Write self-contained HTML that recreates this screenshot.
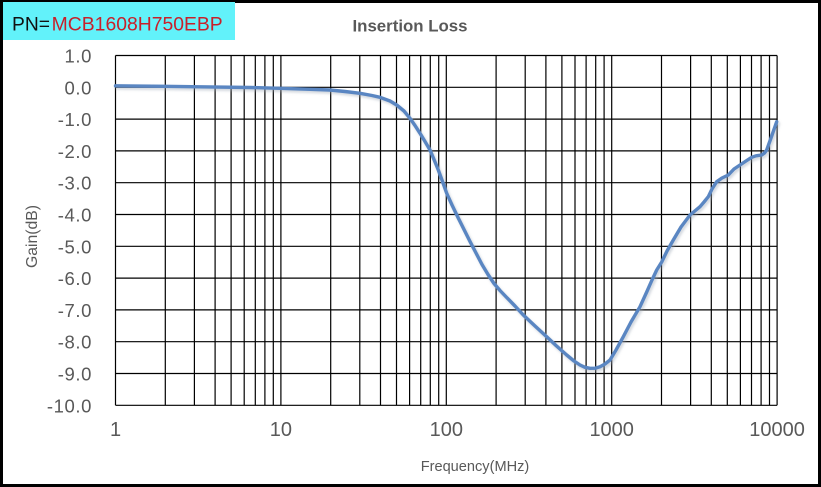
<!DOCTYPE html>
<html>
<head>
<meta charset="utf-8">
<style>
  html, body { margin: 0; padding: 0; background: #fff; }
  svg { display: block; }
  text { font-family: "Liberation Sans", Arial, sans-serif; }
</style>
</head>
<body>
<svg width="821" height="487" viewBox="0 0 821 487" xmlns="http://www.w3.org/2000/svg">
  <defs>
    <filter id="sh" x="-5%" y="-5%" width="110%" height="110%">
      <feGaussianBlur stdDeviation="1.2"/>
    </filter>
  </defs>
  <rect x="0" y="0" width="821" height="487" fill="#fff"/>
  <rect x="1.5" y="1.5" width="818" height="484" fill="none" stroke="#000" stroke-width="3"/>

  <rect x="3" y="2" width="232" height="38" fill="#62F2FA"/>
  <text x="12" y="30.7" font-size="19" fill="#111" textLength="38" lengthAdjust="spacingAndGlyphs">PN=</text>
  <text x="51.7" y="30.7" font-size="19" fill="#C8202A" textLength="171" lengthAdjust="spacingAndGlyphs">MCB1608H750EBP</text>

  <text x="410" y="31.5" font-size="16.5" font-weight="bold" fill="#595959" text-anchor="middle" textLength="115" lengthAdjust="spacingAndGlyphs">Insertion Loss</text>

  <g stroke="#000" stroke-width="1.2" fill="none">
    <line x1="115.5" y1="55.5" x2="777.1" y2="55.5"/>
    <line x1="115.5" y1="87.3" x2="777.1" y2="87.3"/>
    <line x1="115.5" y1="119.1" x2="777.1" y2="119.1"/>
    <line x1="115.5" y1="150.9" x2="777.1" y2="150.9"/>
    <line x1="115.5" y1="182.7" x2="777.1" y2="182.7"/>
    <line x1="115.5" y1="214.5" x2="777.1" y2="214.5"/>
    <line x1="115.5" y1="246.3" x2="777.1" y2="246.3"/>
    <line x1="115.5" y1="278.1" x2="777.1" y2="278.1"/>
    <line x1="115.5" y1="309.9" x2="777.1" y2="309.9"/>
    <line x1="115.5" y1="341.7" x2="777.1" y2="341.7"/>
    <line x1="115.5" y1="373.5" x2="777.1" y2="373.5"/>
    <line x1="115.5" y1="405.3" x2="777.1" y2="405.3"/>

    <line x1="115.5" y1="55.5" x2="115.5" y2="405.3"/>
    <line x1="165.3" y1="55.5" x2="165.3" y2="405.3"/>
    <line x1="194.4" y1="55.5" x2="194.4" y2="405.3"/>
    <line x1="215.1" y1="55.5" x2="215.1" y2="405.3"/>
    <line x1="231.1" y1="55.5" x2="231.1" y2="405.3"/>
    <line x1="244.2" y1="55.5" x2="244.2" y2="405.3"/>
    <line x1="255.3" y1="55.5" x2="255.3" y2="405.3"/>
    <line x1="264.9" y1="55.5" x2="264.9" y2="405.3"/>
    <line x1="273.3" y1="55.5" x2="273.3" y2="405.3"/>

    <line x1="280.9" y1="55.5" x2="280.9" y2="405.3"/>
    <line x1="330.7" y1="55.5" x2="330.7" y2="405.3"/>
    <line x1="359.8" y1="55.5" x2="359.8" y2="405.3"/>
    <line x1="380.5" y1="55.5" x2="380.5" y2="405.3"/>
    <line x1="396.5" y1="55.5" x2="396.5" y2="405.3"/>
    <line x1="409.6" y1="55.5" x2="409.6" y2="405.3"/>
    <line x1="420.7" y1="55.5" x2="420.7" y2="405.3"/>
    <line x1="430.3" y1="55.5" x2="430.3" y2="405.3"/>
    <line x1="438.7" y1="55.5" x2="438.7" y2="405.3"/>

    <line x1="446.3" y1="55.5" x2="446.3" y2="405.3"/>
    <line x1="496.1" y1="55.5" x2="496.1" y2="405.3"/>
    <line x1="525.2" y1="55.5" x2="525.2" y2="405.3"/>
    <line x1="545.9" y1="55.5" x2="545.9" y2="405.3"/>
    <line x1="561.9" y1="55.5" x2="561.9" y2="405.3"/>
    <line x1="575.0" y1="55.5" x2="575.0" y2="405.3"/>
    <line x1="586.1" y1="55.5" x2="586.1" y2="405.3"/>
    <line x1="595.7" y1="55.5" x2="595.7" y2="405.3"/>
    <line x1="604.1" y1="55.5" x2="604.1" y2="405.3"/>

    <line x1="611.7" y1="55.5" x2="611.7" y2="405.3"/>
    <line x1="661.5" y1="55.5" x2="661.5" y2="405.3"/>
    <line x1="690.6" y1="55.5" x2="690.6" y2="405.3"/>
    <line x1="711.3" y1="55.5" x2="711.3" y2="405.3"/>
    <line x1="727.3" y1="55.5" x2="727.3" y2="405.3"/>
    <line x1="740.4" y1="55.5" x2="740.4" y2="405.3"/>
    <line x1="751.5" y1="55.5" x2="751.5" y2="405.3"/>
    <line x1="761.1" y1="55.5" x2="761.1" y2="405.3"/>
    <line x1="769.5" y1="55.5" x2="769.5" y2="405.3"/>
    <line x1="777.1" y1="55.5" x2="777.1" y2="405.3"/>
  </g>

  <g font-size="18.5" fill="#595959" text-anchor="end" letter-spacing="0.6">
    <text x="92" y="62.5">1.0</text>
    <text x="92" y="94.3">0.0</text>
    <text x="92" y="126.1">-1.0</text>
    <text x="92" y="157.9">-2.0</text>
    <text x="92" y="189.7">-3.0</text>
    <text x="92" y="221.5">-4.0</text>
    <text x="92" y="253.3">-5.0</text>
    <text x="92" y="285.1">-6.0</text>
    <text x="92" y="316.9">-7.0</text>
    <text x="92" y="348.7">-8.0</text>
    <text x="92" y="380.5">-9.0</text>
    <text x="92" y="412.3">-10.0</text>
  </g>

  <g font-size="20" fill="#595959" text-anchor="middle">
    <text x="115.5" y="436">1</text>
    <text x="280.9" y="436">10</text>
    <text x="446.3" y="436">100</text>
    <text x="611.7" y="436">1000</text>
    <text x="777.1" y="436">10000</text>
  </g>

  <text x="475" y="471" font-size="15" fill="#595959" text-anchor="middle" textLength="108.6" lengthAdjust="spacingAndGlyphs">Frequency(MHz)</text>
  <text transform="translate(37,236.5) rotate(-90)" font-size="16" fill="#595959" text-anchor="middle" textLength="63" lengthAdjust="spacingAndGlyphs">Gain(dB)</text>

  <g fill="none" stroke-linejoin="round" stroke-linecap="round">
    <polyline transform="translate(1.5,2)" filter="url(#sh)" stroke="#9aa4b4" stroke-opacity="0.45" stroke-width="3.5"
      points="115.5,85.8 165,86.3 200,86.8 250,87.5 280,88.3 310,89.3 330,90 345,91.5 360,93.3 372,95.5 380,97.3 390,101 396.7,105 404,111 410,118.3 415,125.5 420,133.3 425,141.5 430,150 434,159.5 438.3,170 442.5,181.5 446.7,193.3 452,205 458,217.5 464,229.5 470,241.5 476,253 482,264.5 488,274.5 494,283.5 500,290.5 506.7,297.5 515,306 523.3,315 535,326 546.7,336.7 556,345.5 566.7,355 574,361 580,365 585,367.3 590,368.3 595,368.2 600,366.7 605,364 610,360 616,350 623.3,336.7 631,322 640,306.7 646.7,292 652,280 656.7,270 661.7,262 667,251 673.3,240 681,227 690,215 700,206.7 704,202 708.3,196.7 712,189 716.7,181.7 722,178 728.3,175 734,169 740,165 746,161 751.7,157.3 756,155.8 761.7,155 764.5,153 766.7,150 771,138 776.7,121.7"/>
    <polyline stroke="#5A86C2" stroke-width="3.4"
      points="115.5,85.8 165,86.3 200,86.8 250,87.5 280,88.3 310,89.3 330,90 345,91.5 360,93.3 372,95.5 380,97.3 390,101 396.7,105 404,111 410,118.3 415,125.5 420,133.3 425,141.5 430,150 434,159.5 438.3,170 442.5,181.5 446.7,193.3 452,205 458,217.5 464,229.5 470,241.5 476,253 482,264.5 488,274.5 494,283.5 500,290.5 506.7,297.5 515,306 523.3,315 535,326 546.7,336.7 556,345.5 566.7,355 574,361 580,365 585,367.3 590,368.3 595,368.2 600,366.7 605,364 610,360 616,350 623.3,336.7 631,322 640,306.7 646.7,292 652,280 656.7,270 661.7,262 667,251 673.3,240 681,227 690,215 700,206.7 704,202 708.3,196.7 712,189 716.7,181.7 722,178 728.3,175 734,169 740,165 746,161 751.7,157.3 756,155.8 761.7,155 764.5,153 766.7,150 771,138 776.7,121.7"/>
  </g>
</svg>
</body>
</html>
